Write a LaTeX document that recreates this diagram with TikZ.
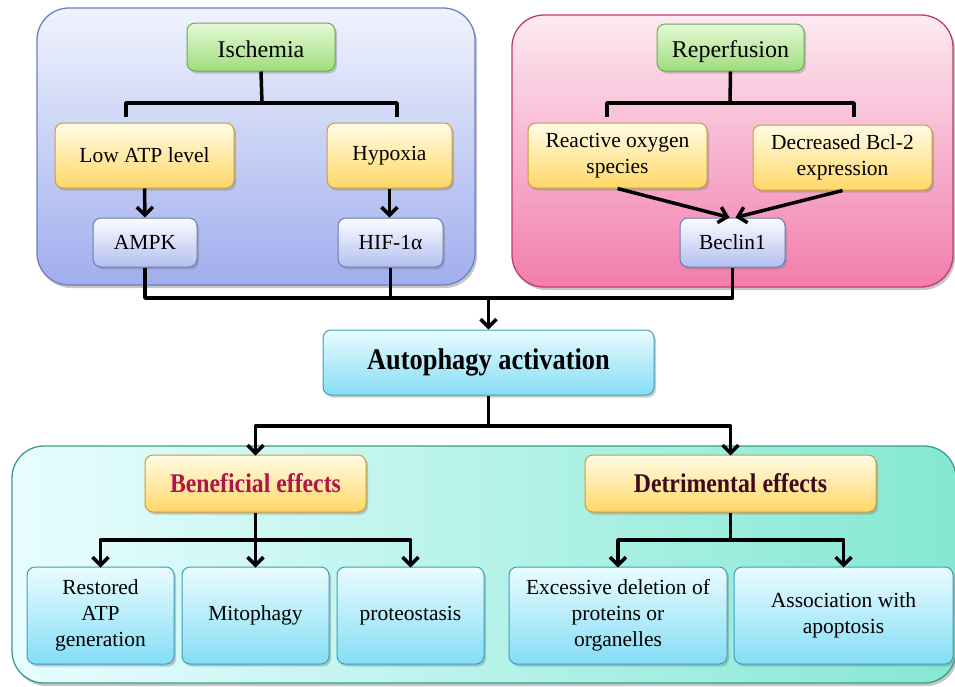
\documentclass[tikz,border=0pt]{standalone}
\usepackage{fontspec}
\setmainfont{Liberation Serif}
\newfontfamily\bodyfont{Liberation Serif}
\newfontfamily\condfont[FakeStretch=0.88]{Liberation Serif}
\usetikzlibrary{arrows.meta,shadows}
\definecolor{bpTop}{HTML}{F0F3FD}
\definecolor{bpBot}{HTML}{A0AEEE}
\definecolor{bpEdge}{HTML}{6E80C0}
\definecolor{ppTop}{HTML}{FDEAF2}
\definecolor{ppBot}{HTML}{F27DAC}
\definecolor{ppEdge}{HTML}{C23A72}
\definecolor{gpLeft}{HTML}{E8FDFF}
\definecolor{gpRight}{HTML}{84E8D2}
\definecolor{gpEdge}{HTML}{3E9A8C}
\definecolor{grTop}{HTML}{E4F9D6}
\definecolor{grBot}{HTML}{9FDD7C}
\definecolor{grEdge}{HTML}{6FA850}
\definecolor{yeTop}{HTML}{FFFCE6}
\definecolor{yeBot}{HTML}{FFD766}
\definecolor{yeEdge}{HTML}{C99E36}
\definecolor{lbTop}{HTML}{FBFCFF}
\definecolor{lbBot}{HTML}{B3BFF0}
\definecolor{lbEdge}{HTML}{6B7AB5}
\definecolor{cyTop}{HTML}{EAFCFF}
\definecolor{cyBot}{HTML}{84DDF5}
\definecolor{cyEdge}{HTML}{3A9FC0}
\definecolor{benColor}{HTML}{B0154A}
\definecolor{detColor}{HTML}{3E0A1C}
\begin{document}
\begin{tikzpicture}[x=1pt,y=-1pt,
  panel/.style={draw, line width=1.3pt, rounded corners=32pt, inner sep=0pt,
    drop shadow={shadow xshift=2pt,shadow yshift=-3pt,opacity=0.45}},
  box/.style={draw, line width=1pt, rounded corners=8pt, inner sep=0pt, align=center,
    font=\bodyfont\fontsize{21.5}{26}\selectfont,
    drop shadow={shadow xshift=2pt,shadow yshift=-2.5pt,opacity=0.4}},
  gbox/.style={box, draw=grEdge, top color=grTop, bottom color=grBot,
    font=\bodyfont\fontsize{24}{28}\selectfont, text height=25pt, text depth=5pt},
  ybox/.style={box, draw=yeEdge, top color=yeTop, bottom color=yeBot},
  lbbox/.style={box, draw=lbEdge, top color=lbTop, bottom color=lbBot},
  cybox/.style={box, draw=cyEdge, top color=cyTop, bottom color=cyBot},
  conn/.style={line width=3.5pt, line join=round},
  arr/.style={conn, -{Straight Barb[length=8pt,width=16pt]}}
]
\useasboundingbox (0,0) rectangle (955,686);

% panels
\node[panel, draw=bpEdge, top color=bpTop, bottom color=bpBot,
  minimum width=438pt, minimum height=277pt] (bluepanel) at (256,146.5) {};
\node[panel, draw=ppEdge, top color=ppTop, bottom color=ppBot,
  minimum width=441pt, minimum height=272pt] (pinkpanel) at (732.5,151) {};
\node[panel, draw=gpEdge, left color=gpLeft, right color=gpRight,
  minimum width=944pt, minimum height=237pt] (greenpanel) at (484,564.5) {};

% ischemia side
\node[gbox, minimum width=148pt, minimum height=48pt] (isch) at (261,47) {Ischemia};
\node[ybox, minimum width=179pt, minimum height=65pt] (lowatp) at (144.5,155.5) {Low ATP level};
\node[ybox, minimum width=125pt, minimum height=65pt] (hypoxia) at (389.5,155.5) {Hypoxia};
\node[lbbox, minimum width=104pt, minimum height=49pt] (ampk) at (145,242.5) {AMPK};
\node[lbbox, minimum width=105pt, minimum height=49pt] (hif) at (390.5,242.5) {HIF-1α};

% reperfusion side
\node[gbox, minimum width=147pt, minimum height=47pt] (reperf) at (730.5,47.5) {Reperfusion};
\node[ybox, minimum width=179pt, minimum height=65pt, text depth=4pt] (ros) at (617.5,155.5) {Reactive oxygen\\species};
\node[ybox, minimum width=179pt, minimum height=65pt, text depth=4pt] (bcl) at (842.5,157.5) {Decreased Bcl-2\\expression};
\node[lbbox, minimum width=105pt, minimum height=49pt] (beclin) at (732.5,242.5) {Beclin1};

% autophagy
\node[cybox, minimum width=331pt, minimum height=65pt,
  font=\condfont\bfseries\fontsize{30}{34}\selectfont] (auto) at (488.5,362.5) {Autophagy activation};

% effects
\node[ybox, minimum width=221pt, minimum height=57pt,
  font=\condfont\bfseries\fontsize{27}{30}\selectfont, text=benColor] (benef) at (255.5,483.5) {Beneficial effects};
\node[ybox, minimum width=291pt, minimum height=57pt,
  font=\condfont\bfseries\fontsize{27}{30}\selectfont, text=detColor] (detr) at (730.5,483.5) {Detrimental effects};

\node[cybox, minimum width=147pt, minimum height=97pt] (rest) at (100.5,615.5) {Restored\\ATP\\generation};
\node[cybox, minimum width=147pt, minimum height=97pt] (mito) at (255.5,615.5) {Mitophagy};
\node[cybox, minimum width=147pt, minimum height=97pt] (proteo) at (410.5,615.5) {proteostasis};
\node[cybox, minimum width=218pt, minimum height=97pt] (exc) at (618,615.5) {Excessive deletion of\\proteins or\\organelles};
\node[cybox, minimum width=219pt, minimum height=97pt] (assoc) at (843.5,615.5) {Association with\\apoptosis};

% ischemia bracket
\coordinate (ij) at (262,103);
\coordinate (il) at (126,103);
\coordinate (ir) at (397,103);
\coordinate (ile) at (126,117);
\coordinate (ire) at (397,117);
\draw[conn] (isch.south) -- (ij);
\draw[conn] (ile) -- (il) -- (ir) -- (ire);
\draw[arr] (lowatp.south) -- (ampk.north);
\draw[arr] (hypoxia.south) -- (hypoxia.south |- hif.north);

% reperfusion bracket
\coordinate (rj) at (730,103);
\coordinate (rl) at (607,103);
\coordinate (rr) at (854,103);
\coordinate (rle) at (607,117);
\coordinate (rre) at (854,117);
\draw[conn] (reperf.south) -- (rj);
\draw[conn] (rle) -- (rl) -- (rr) -- (rre);
\draw[arr] (ros.south) -- ([xshift=-3pt]beclin.north);
\draw[arr] (bcl.south) -- ([xshift=3pt]beclin.north);

% merge to autophagy
\coordinate (mj) at (488.5,298);
\draw[conn] (ampk.south) |- (mj);
\draw[conn] (beclin.south) |- (mj);
\draw[conn] (hif.south) -- (hif.south |- mj);
\draw[arr] (mj) -- (auto.north);

% autophagy split
\coordinate (aj) at (488.5,426);
\draw[conn] (auto.south) -- (aj);
\draw[arr] (aj) -| ([yshift=-1pt]benef.north);
\draw[arr] (aj) -| ([yshift=-1pt]detr.north);

% beneficial split
\coordinate (bj) at (255.5,540);
\draw[conn] (benef.south) -- (bj);
\draw[arr] (bj) -| ([yshift=-1pt]rest.north);
\draw[arr] (bj) -- ([yshift=-1pt]mito.north);
\draw[arr] (bj) -| ([yshift=-1pt]proteo.north);

% detrimental split
\coordinate (dj) at (730.5,540);
\draw[conn] (detr.south) -- (dj);
\draw[arr] (dj) -| ([yshift=-1pt]exc.north);
\draw[arr] (dj) -| ([yshift=-1pt]assoc.north);
\end{tikzpicture}
\end{document}
